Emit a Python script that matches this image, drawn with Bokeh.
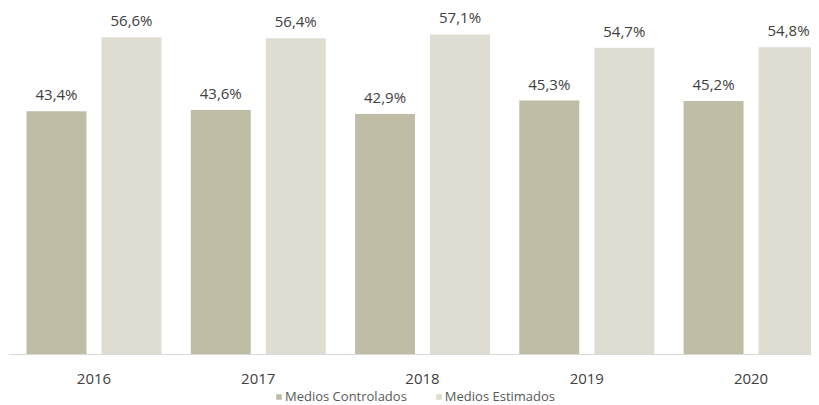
import numpy as np
from bokeh.plotting import figure
from bokeh.models import ColumnDataSource, Range1d, FixedTicker, Legend, LegendItem
from bokeh.core.properties import value
from bokeh.embed import file_html
from bokeh.resources import INLINE

years = ["2016", "2017", "2018", "2019", "2020"]
controlados = [43.4, 43.6, 42.9, 45.3, 45.2]
estimados = [56.6, 56.4, 57.1, 54.7, 54.8]

C_CTRL = "#bfbda6"
C_EST = "#dfddd2"
FONT = "Open Sans"

x = np.arange(len(years))
bw = 0.365
off = 0.2283

src = ColumnDataSource(dict(
    xc=x - off, xe=x + off,
    ctrl=controlados, est=estimados,
    lc=[f"{v:.1f}%".replace(".", ",") for v in controlados],
    le=[f"{v:.1f}%".replace(".", ",") for v in estimados],
))

p = figure(frame_width=803, frame_height=397, output_backend="svg", toolbar_location=None,
           x_range=Range1d(-0.5205, 4.368), y_range=Range1d(-9.10, 61.72),
           min_border_left=8, min_border_right=0, min_border_top=8, min_border_bottom=0)
p.outline_line_color = None
p.grid.visible = False
p.yaxis.visible = False

rc = p.vbar(x="xc", top="ctrl", width=bw, source=src, color=C_CTRL, line_color=None)
re = p.vbar(x="xe", top="est", width=bw, source=src, color=C_EST, line_color=None)

for xcol, ycol, tcol in (("xc", "ctrl", "lc"), ("xe", "est", "le")):
    p.text(x=xcol, y=ycol, text=tcol, source=src, text_align="center",
           text_baseline="bottom", y_offset=-7, text_font=value(FONT),
           text_font_size="15px", text_color="#404040")

ax = p.xaxis[0]
ax.fixed_location = 0
ax.ticker = FixedTicker(ticks=list(x))
ax.major_label_overrides = {int(i): y for i, y in zip(x, years)}
ax.major_tick_line_color = None
ax.minor_tick_line_color = None
ax.axis_line_color = "#d9d9d9"
ax.axis_line_width = 1
ax.major_label_standoff = 14
ax.major_label_text_font = FONT
ax.major_label_text_font_size = "15px"
ax.major_label_text_color = "#404040"

legend = Legend(items=[LegendItem(label="Medios Controlados", renderers=[rc]),
                       LegendItem(label="Medios Estimados", renderers=[re])],
                orientation="horizontal", location=(267, 0),
                background_fill_alpha=0, border_line_color=None,
                label_text_font=FONT, label_text_font_size="13px",
                label_text_color="#595959", glyph_width=7, glyph_height=7,
                label_standoff=3, spacing=28, padding=0, margin=0,
                label_height=12, label_text_line_height=1.0)
p.add_layout(legend, "center")

open("out.html", "w").write(file_html(p, INLINE))
